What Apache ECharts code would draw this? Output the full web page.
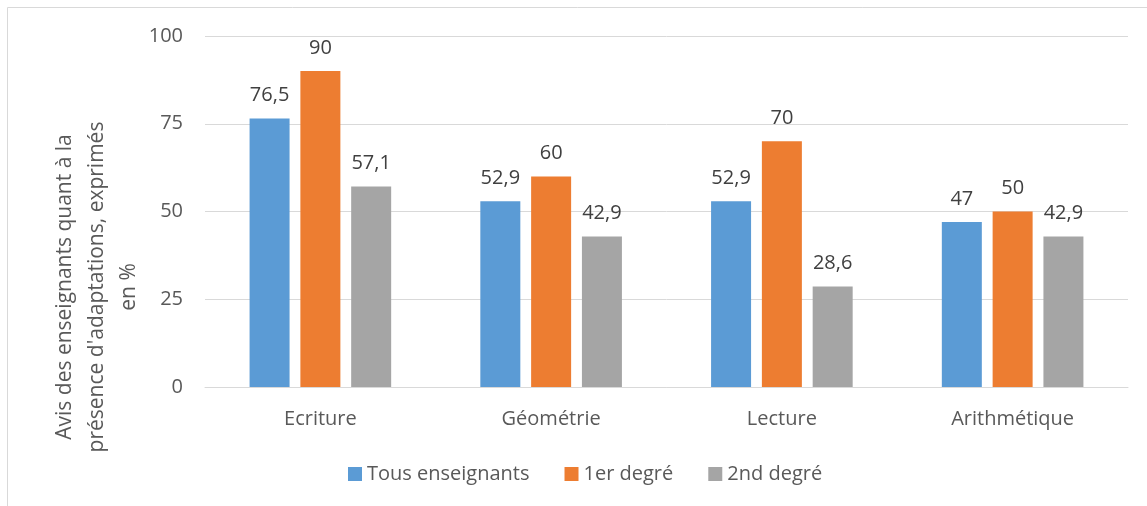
<!DOCTYPE html>
<html>
<head>
<meta charset="utf-8">
<script src="https://cdn.jsdelivr.net/npm/echarts@6/dist/echarts.min.js"></script>
<style>
  html, body { margin: 0; padding: 0; background: #fff; }
  #chart { width: 1147px; height: 506px; }
</style>
</head>
<body>
<div id="chart"></div>
<script>
// matières
var categories = ["Ecriture", "Géométrie", "Lecture", "Arithmétique"];
// séries
var tousEnseignants = [76.5, 52.9, 52.9, 47];
var premierDegre = [90, 60, 70, 50];
var secondDegre = [57.1, 42.9, 28.6, 42.9];
var seriesNames = ["Tous enseignants", "1er degré", "2nd degré"];
var yTicks = [0, 25, 50, 75, 100];
var yTitle = "Avis des enseignants quant à la\nprésence d'adaptations, exprimés\nen %";

var font = "Open Sans";
var chart = echarts.init(document.getElementById("chart"));

// étiquette au-dessus des barres, virgule décimale
function labelOpts() {
  return {
    show: true,
    position: "top",
    distance: 13,
    fontFamily: font,
    fontSize: 20,
    color: "#404040",
    formatter: function (p) {
      return String(p.value).replace(".", ",");
    },
  };
}

var option = {
  animation: false,
  color: ["#5B9BD5", "#ED7D31", "#A5A5A5"],
  graphic: [
    {
      type: "rect",
      shape: { x: 7.5, y: 7.5, width: 1170, height: 530 },
      style: { fill: "none", stroke: "#D9D9D9", lineWidth: 1 },
    },
    {
      type: "text",
      x: 97,
      y: 287,
      rotation: Math.PI / 2,
      style: {
        text: yTitle,
        fontFamily: font,
        fontSize: 21,
        lineHeight: 32,
        fill: "#595959",
        align: "center",
        verticalAlign: "middle",
      },
    },
  ],
  grid: { left: 205, right: 19, top: 36, bottom: 119 },
  legend: {
    data: seriesNames,
    left: 343,
    top: 459,
    icon: "rect",
    itemWidth: 14,
    itemHeight: 14,
    itemGap: 35,
    textStyle: { fontFamily: font, fontSize: 20, color: "#595959" },
  },
  xAxis: {
    type: "category",
    data: categories,
    axisLine: { show: true, lineStyle: { color: "#D9D9D9" } },
    axisTick: { show: false },
    axisLabel: { fontFamily: font, fontSize: 20, color: "#595959", margin: 22 },
  },
  yAxis: {
    type: "value",
    min: yTicks[0],
    max: yTicks[yTicks.length - 1],
    interval: 25,
    axisLine: { show: false },
    axisTick: { show: false },
    axisLabel: { fontFamily: font, fontSize: 20, color: "#595959", margin: 22 },
    splitLine: { lineStyle: { color: "#D9D9D9", width: 1 } },
  },
  series: [
    { name: seriesNames[0], type: "bar", data: tousEnseignants, barWidth: 40, barGap: "27%", label: labelOpts() },
    { name: seriesNames[1], type: "bar", data: premierDegre, barWidth: 40, barGap: "27%", label: labelOpts() },
    { name: seriesNames[2], type: "bar", data: secondDegre, barWidth: 40, barGap: "27%", label: labelOpts() },
  ],
};

chart.setOption(option);
</script>
</body>
</html>
